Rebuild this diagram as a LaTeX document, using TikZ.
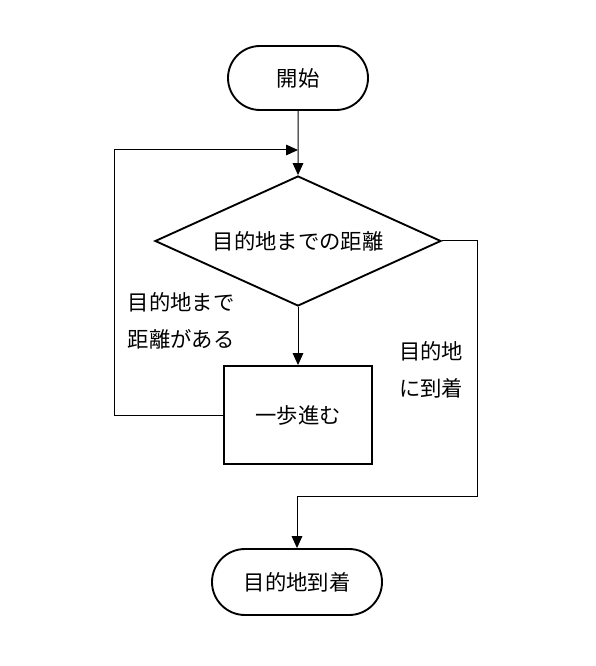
\documentclass[tikz,border=0pt]{standalone}
\usepackage{fontspec}
\setmainfont{Noto Sans CJK JP}
\usetikzlibrary{arrows.meta,shapes.geometric,shapes.misc}

\begin{document}
\begin{tikzpicture}[
      x=0.75pt, y=-0.75pt,
      every node/.style={font=\fontsize{16pt}{27.75pt}\selectfont},
      terminal/.style={
         rounded rectangle,
         draw=black,
         line width=1.4pt,
         inner sep=0pt},
      decision/.style={
         diamond,
         draw=black,
         line width=1.4pt,
         aspect=2.2,
         inner sep=0pt,
         minimum width=214.5pt,
         minimum height=97.5pt},
      process/.style={
         rectangle,
         draw=black,
         line width=1.4pt,
         inner sep=0pt,
         minimum width=111pt,
         minimum height=73.5pt},
      myarrow/.style={-{Triangle[length=9pt,width=8pt]}, line width=0.75pt}
      ]
      \useasboundingbox (0,0) rectangle (595,666);
      \node[terminal,minimum width=105pt,minimum height=48pt] (start) at (298,78) {開始};
      \node[decision] (check) at (298,241) {目的地までの距離};
      \node[process] (walk) at (298,415) {一歩進む};
      \node[terminal,minimum width=127.5pt,minimum height=49.5pt] (goal) at (297,582) {目的地到着};

      \coordinate (merge) at (298,150);
      \coordinate (loopcorner) at (114,150);
      \coordinate (rightcorner) at (477,496);

      \draw [myarrow] (start) -- (check);
      \draw [myarrow] (check) -- (walk);
      \draw [myarrow] (walk.west) -| (loopcorner) -- (merge);
      \draw [myarrow] (check.east) -| (rightcorner) -| (goal.north);

      % branch labels
      \node [align=center] (farlabel) at (181,321) {目的地まで\\距離がある};
      \node [align=center] (arrivelabel) at (431,370) {目的地\\に到着};
    \end{tikzpicture}
\end{document}
